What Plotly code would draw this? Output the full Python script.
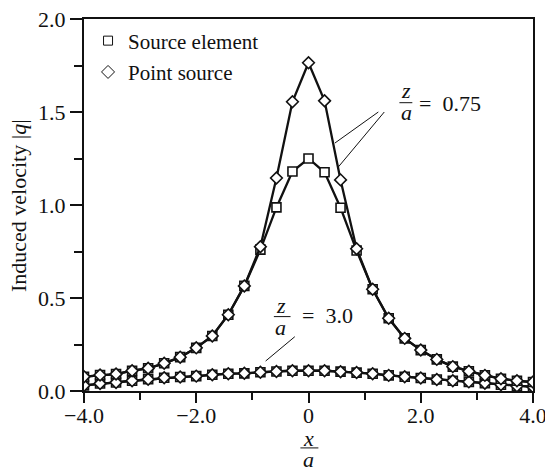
import plotly.graph_objects as go

# x/a positions (29 stations)
x_vals = [-4.0, -3.714, -3.429, -3.143, -2.857, -2.571, -2.286, -2.0, -1.714, -1.429,
          -1.143, -0.857, -0.571, -0.286, 0.0, 0.286, 0.571, 0.857, 1.143, 1.429,
          1.714, 2.0, 2.286, 2.571, 2.857, 3.143, 3.429, 3.714, 4.0]

# z/a = 0.75
point_075 = [0.077, 0.086, 0.091, 0.109, 0.122, 0.149, 0.182, 0.232, 0.296, 0.410,
             0.565, 0.776, 1.145, 1.555, 1.765, 1.560, 1.135, 0.765, 0.547, 0.391,
             0.283, 0.220, 0.170, 0.131, 0.106, 0.084, 0.066, 0.055, 0.048]
element_075 = [0.077, 0.086, 0.091, 0.109, 0.122, 0.149, 0.182, 0.232, 0.296, 0.410,
               0.565, 0.760, 0.987, 1.180, 1.250, 1.176, 0.985, 0.755, 0.547, 0.391,
               0.283, 0.220, 0.170, 0.131, 0.106, 0.084, 0.066, 0.055, 0.048]

# z/a = 3.0
point_30 = [0.030, 0.040, 0.046, 0.055, 0.063, 0.071, 0.075, 0.080, 0.087, 0.093,
            0.095, 0.101, 0.105, 0.109, 0.109, 0.109, 0.104, 0.099, 0.093, 0.084,
            0.077, 0.070, 0.062, 0.055, 0.049, 0.042, 0.034, 0.027, 0.022]
element_30 = list(point_30)

y_ticks = [0.0, 0.5, 1.0, 1.5, 2.0]
x_ticks = [-4, -2, 0, 2, 4]
x_ticktext = ["\u22124.0", "\u22122.0", "0", "2.0", "4.0"]

FONT = "Liberation Serif"
BLACK = "#111111"
FS = 22

fig = go.Figure()

sq = dict(symbol="square", size=9, color="white", line=dict(color=BLACK, width=1.6))
dm = dict(symbol="diamond", size=9, color="white", line=dict(color=BLACK, width=1.6))
ln = dict(color=BLACK, width=2.3)

fig.add_trace(go.Scatter(x=x_vals, y=element_30, mode="lines+markers", line=ln, marker=sq, showlegend=False))
fig.add_trace(go.Scatter(x=x_vals, y=point_30, mode="lines+markers", line=ln, marker=dm, showlegend=False))
fig.add_trace(go.Scatter(x=x_vals, y=element_075, mode="lines+markers", line=ln, marker=sq, showlegend=False))
fig.add_trace(go.Scatter(x=x_vals, y=point_075, mode="lines+markers", line=ln, marker=dm, showlegend=False))

# legend entries
fig.add_trace(go.Scatter(x=[None], y=[None], mode="markers", name="Source element",
                         marker=dict(symbol="square", size=9, color="white", line=dict(color=BLACK, width=1)),
                         legendgroup="a"))
fig.add_trace(go.Scatter(x=[None], y=[None], mode="markers", name="Point source",
                         marker=dict(symbol="diamond", size=10, color="white", line=dict(color=BLACK, width=1)),
                         legendgroup="b"))

shapes = []
annots = []

def txt(x, y, s, xref="x", yref="y", xanchor="center", size=FS, angle=0):
    annots.append(dict(x=x, y=y, xref=xref, yref=yref, text=s, showarrow=False, xanchor=xanchor,
                       yanchor="middle", textangle=angle, font=dict(family=FONT, size=size, color=BLACK)))

def seg(x0, y0, x1, y1, xref="x", yref="y"):
    shapes.append(dict(type="line", xref=xref, yref=yref, x0=x0, y0=y0, x1=x1, y1=y1,
                       line=dict(color=BLACK, width=1)))

# z/a = 0.75 label
txt(1.742, 1.615, "<i>z</i>")
txt(1.742, 1.495, "<i>a</i>")
seg(1.62, 1.55, 1.85, 1.55)
txt(1.93, 1.545, "=  0.75", xanchor="left")
seg(1.244, 1.50, 0.47, 1.333)
seg(1.35, 1.50, 0.53, 1.204)

# z/a = 3.0 label
txt(-0.498, 0.462, "<i>z</i>")
txt(-0.498, 0.342, "<i>a</i>")
seg(-0.617, 0.40, -0.32, 0.40)
txt(-0.15, 0.405, "=  3.0", xanchor="left")
seg(-0.244, 0.292, -0.764, 0.161)

# x-axis title as fraction x/a
txt(0.501, -0.127, "<i>x</i>", xref="paper", yref="paper")
txt(0.501, -0.183, "<i>a</i>", xref="paper", yref="paper")
seg(0.482, -0.153, 0.522, -0.153, xref="paper", yref="paper")

# y-axis title
txt(-0.147, 0.5, "Induced velocity |<i>q</i>|", xref="paper", yref="paper", angle=-90)

fig.update_layout(
    width=545, height=467,
    margin=dict(l=84, r=12, t=19, b=76),
    paper_bgcolor="white", plot_bgcolor="white",
    font=dict(family=FONT, size=FS, color=BLACK),
    showlegend=True,
    legend=dict(x=0.009, y=0.996, xanchor="left", yanchor="top", bgcolor="rgba(0,0,0,0)",
                font=dict(family=FONT, size=21, color=BLACK), tracegroupgap=1,
                itemwidth=30),
    shapes=shapes, annotations=annots,
    xaxis=dict(range=[-4, 4], tickvals=x_ticks, ticktext=x_ticktext, ticks="outside", ticklen=10,
               tickwidth=1.5, tickcolor=BLACK, showline=True, linecolor=BLACK, linewidth=2,
               mirror=True, showgrid=False, zeroline=False, automargin=False,
               ticklabeloverflow="allow", ticklabelstandoff=-6,
               minor=dict(dtick=1, ticks="outside", ticklen=7, tickwidth=1.5, tickcolor=BLACK, showgrid=False),
               tickfont=dict(family=FONT, size=FS, color=BLACK)),
    yaxis=dict(range=[0, 2], tickvals=y_ticks, tickformat=".1f", ticks="outside", ticklen=12,
               tickwidth=1.5, tickcolor=BLACK, showline=True, linecolor=BLACK, linewidth=2,
               mirror=True, showgrid=False, zeroline=False, automargin=False,
               ticklabeloverflow="allow",
               minor=dict(dtick=0.25, ticks="outside", ticklen=8, tickwidth=1.5, tickcolor=BLACK, showgrid=False),
               tickfont=dict(family=FONT, size=FS, color=BLACK)),
)

fig.write_html("out.html", config={"displayModeBar": False},
               post_script="document.body.style.margin='0';document.body.style.overflow='hidden';")
